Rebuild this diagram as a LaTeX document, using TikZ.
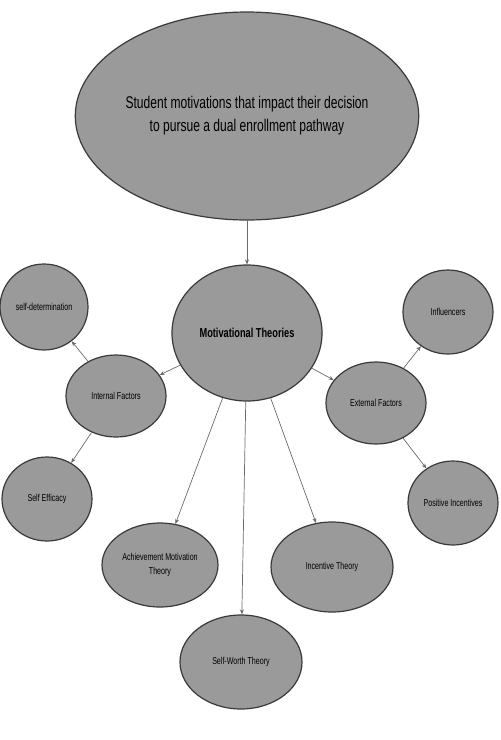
\documentclass[tikz,border=0pt]{standalone}
\usepackage{fontspec}
\setmainfont{Liberation Sans}
\newfontfamily\labelfont[FakeStretch=0.71]{Liberation Sans}
\usetikzlibrary{shapes.geometric,arrows.meta}
\definecolor{bubblefill}{HTML}{9A9A9A}
\definecolor{bubbleedge}{HTML}{3A3A3A}
\definecolor{linkgray}{HTML}{6A6A6A}

\begin{document}
\begin{tikzpicture}[x=1pt,y=-1pt,
  bubble/.style={ellipse, draw=bubbleedge, line width=1.2pt, fill=bubblefill,
    inner sep=0pt, align=center, text=black,
    font=\labelfont\fontsize{10}{14}\selectfont},
  link/.style={draw=linkgray, line width=0.7pt, -{Stealth[length=5pt,width=4pt]}}]
\useasboundingbox (0,0) rectangle (501,740);

% central question
\node[bubble, minimum width=326pt, minimum height=208pt,
  font=\labelfont\fontsize{17}{23}\selectfont] (goal) at (247,116)
  {Student motivations that impact their decision\\to pursue a dual enrollment pathway};

% hub
\node[bubble, minimum width=150pt, minimum height=136pt,
  font=\labelfont\bfseries\fontsize{13}{16}\selectfont] (theories) at (247,333)
  {Motivational Theories};

% factor groups
\node[bubble, minimum width=100pt, minimum height=82pt] (internal) at (116,396) {Internal Factors};
\node[bubble, minimum width=100pt, minimum height=82pt] (external) at (376,403) {External Factors};

% leaves
\node[bubble, minimum width=88pt, minimum height=86pt] (selfdet) at (44,307) {self-determination};
\node[bubble, minimum width=90pt, minimum height=84pt] (efficacy) at (47,499) {Self Efficacy};
\node[bubble, minimum width=90pt, minimum height=84pt] (influencers) at (448,312) {Influencers};
\node[bubble, minimum width=90pt, minimum height=84pt] (positive) at (453,503) {Positive Incentives};
\node[bubble, minimum width=116pt, minimum height=84pt] (achieve) at (160,565) {Achievement Motivation\\Theory};
\node[bubble, minimum width=122pt, minimum height=90pt] (incentive) at (332,567) {Incentive Theory};
\node[bubble, minimum width=122pt, minimum height=94pt] (worth) at (241,662) {Self-Worth Theory};

% connectors
\draw[link] (goal) -- (theories);
\draw[link] (theories) -- (internal);
\draw[link] (theories) -- (external);
\draw[link] (theories) -- (achieve);
\draw[link] (theories) -- (worth);
\draw[link] (theories) -- (incentive);
\draw[link] (internal) -- (selfdet);
\draw[link] (internal) -- (efficacy);
\draw[link] (external) -- (influencers);
\draw[link] (external) -- (positive);
\end{tikzpicture}
\end{document}
